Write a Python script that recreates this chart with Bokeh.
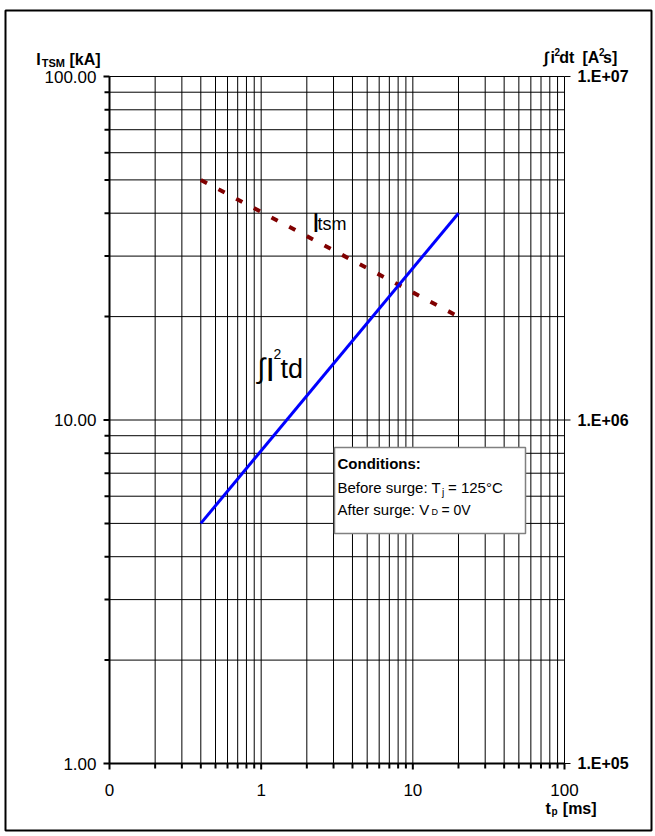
import numpy as np
from bokeh.plotting import figure
from bokeh.models import LogScale, Range1d, Label, BoxAnnotation, PolyAnnotation
from bokeh.core.properties import value
from bokeh.embed import file_html
from bokeh.resources import INLINE

# ---------------- data ----------------
tp_ms = [0.4, 20.0]                 # pulse duration t_p [ms]
itsm_kA = [50.0, 20.0]              # I_TSM [kA]
i2t_A2s = [5.0e5, 4.0e6]            # integral i^2 dt [A^2 s]

x_major = [0.1, 1, 10, 100]
x_labels = ["0", "1", "10", "100"]
y_major = [1, 10, 100]
y_labels = ["1.00", "10.00", "100.00"]
y2_major = [1e5, 1e6, 1e7]
y2_labels = ["1.E+05", "1.E+06", "1.E+07"]

FONT = "Liberation Sans"


def decade_minors(lo, hi):
    out = []
    d = lo
    while d < hi:
        out += [m * d for m in range(2, 10)]
        d *= 10
    return out


x_minor = decade_minors(x_major[0], x_major[-1])
y_minor = decade_minors(y_major[0], y_major[-1])
x_all = sorted(x_major + x_minor)
y_all = sorted(y_major + y_minor)

# ---------------- geometry (canvas pixels) ----------------
W, H = 653, 834
PL, PR, PT, PB = 109.0, 564.0, 76.0, 763.0      # plot area inside the canvas
XD = np.log10(x_major[-1] / x_major[0])          # decades on x
YD = np.log10(y_major[-1] / y_major[0])          # decades on y


def xr(px):
    return x_major[0] * 10 ** (XD * (px - PL) / (PR - PL))


def yr(py, base):
    return base * 10 ** (YD * (PB - py) / (PB - PT))


p = figure(width=W, height=H, x_axis_type="log", y_axis_type="log",
           x_axis_location=None, y_axis_location=None,
           x_range=Range1d(xr(0), xr(W)),
           y_range=Range1d(yr(H, y_major[0]), yr(0, y_major[0])),
           output_backend="svg", toolbar_location=None, min_border=0)
p.min_border_left = p.min_border_right = p.min_border_top = p.min_border_bottom = 0
p.background_fill_color = "white"
p.border_fill_color = "white"
p.outline_line_color = None
for g in p.grid:
    g.visible = False

p.extra_y_ranges = {"i2t": Range1d(yr(H, y2_major[0]), yr(0, y2_major[0]))}
p.extra_y_scales = {"i2t": LogScale()}

n_x, n_y = len(x_all), len(y_all)
x_lo, x_hi = x_major[0], x_major[-1]
y_lo, y_hi = y_major[0], y_major[-1]

# grid lines (every decade and sub-decade)
p.segment(x0=x_all, y0=[y_lo] * n_x, x1=x_all, y1=[y_hi] * n_x,
          line_color="black", line_width=1)
p.segment(x0=[x_lo] * n_y, y0=y_all, x1=[x_hi] * n_y, y1=y_all,
          line_color="black", line_width=1)

# axis lines (left and bottom are heavier)
p.segment(x0=[x_lo, x_lo], y0=[y_lo, y_lo], x1=[x_lo, x_hi], y1=[y_hi, y_lo],
          line_color="black", line_width=2)

# tick marks
p.ray(x=[x_lo] * len(y_major), y=y_major, length=6, length_units="screen",
      angle=np.pi, line_color="black", line_width=2)
p.ray(x=[x_lo] * len(y_minor), y=y_minor, length=5, length_units="screen",
      angle=np.pi, line_color="black", line_width=2)
p.ray(x=x_major, y=[y_lo] * len(x_major), length=6, length_units="screen",
      angle=-np.pi / 2, line_color="black", line_width=2)
p.ray(x=x_minor, y=[y_lo] * len(x_minor), length=5, length_units="screen",
      angle=-np.pi / 2, line_color="black", line_width=2)
p.ray(x=[x_hi] * len(y2_major), y=y2_major, y_range_name="i2t", length=6,
      length_units="screen", angle=0, line_color="black", line_width=1)

# tick labels
p.text(x=[x_lo] * len(y_major), y=y_major, text=y_labels, x_offset=-13,
       text_align="right", text_baseline="middle", text_font=value(FONT),
       text_font_size="17px", text_color="black")
p.text(x=x_major, y=[y_lo] * len(x_major), text=x_labels, y_offset=26,
       text_align="center", text_baseline="middle", text_font=value(FONT),
       text_font_size="17px", text_color="black")
p.text(x=[x_hi] * len(y2_major), y=y2_major, text=y2_labels, y_range_name="i2t",
       x_offset=13, text_align="left", text_baseline="middle", text_font=value(FONT),
       text_font_style="bold", text_font_size="16px", text_color="black")

# series
p.line(tp_ms, itsm_kA, line_color="#800000", line_width=4, line_dash="7 13")
p.line(tp_ms, i2t_A2s, y_range_name="i2t", line_color="#0000FF", line_width=3)


def lab(px, py, text, size, bold=False, align="left"):
    p.add_layout(Label(x=px, y=H - py, x_units="screen", y_units="screen",
                       text=text, text_font=FONT,
                       text_font_size=f"{size}px",
                       text_font_style="bold" if bold else "normal",
                       text_color="black", text_align=align,
                       text_baseline="alphabetic"))


# outer frame of the picture
p.add_layout(PolyAnnotation(xs=[5, 651, 651, 5], ys=[H - 10, H - 10, H - 830, H - 830],
                            xs_units="screen", ys_units="screen",
                            fill_alpha=0, line_color="black", line_alpha=1,
                            line_width=2))

# conditions box
p.add_layout(BoxAnnotation(left=334, right=525, top=H - 447, bottom=H - 533,
                           left_units="screen", right_units="screen",
                           top_units="screen", bottom_units="screen",
                           fill_color="white", fill_alpha=1,
                           line_color="#808080", line_alpha=1, line_width=1.5))
lab(337, 462.7, "Conditions:", 15, bold=True)
lab(337, 486.7, "Before surge: T", 15)
lab(441.5, 491.5, "j", 10)
lab(447.5, 486.7, "= 125°C", 15)
lab(337, 509.3, "After surge: V", 15)
lab(431, 511.7, "D", 9)
lab(441, 509.3, "=  0V", 14)

# curve labels
lab(311.5, 221.7, "I", 28)
lab(317, 223, "tsm", 18)
lab(257, 368.3, "∫", 28)
lab(265, 368.3, "I", 34)
lab(273, 353, "2", 14)
lab(280, 368.3, "td", 27)

# axis titles
lab(35.7, 59.3, "I", 16, bold=True)
lab(41.3, 62, "TSM", 11, bold=True)
lab(69, 59.3, "[kA]", 16, bold=True)

lab(543.5, 57.3, "∫", 16, bold=True)
lab(550, 57.3, "i", 16, bold=True)
lab(554, 51, "2", 10, bold=True)
lab(558.7, 57.3, "dt", 16, bold=True)
lab(582, 57.3, "[A", 16, bold=True)
lab(598.5, 51, "2", 10, bold=True)
lab(602.5, 57.3, "s]", 16, bold=True)

lab(545, 808, "t", 16, bold=True)
lab(551, 811, "p", 10, bold=True)
lab(562.3, 808, "[ms]", 16, bold=True)

open("out.html", "w").write(file_html(p, INLINE))
